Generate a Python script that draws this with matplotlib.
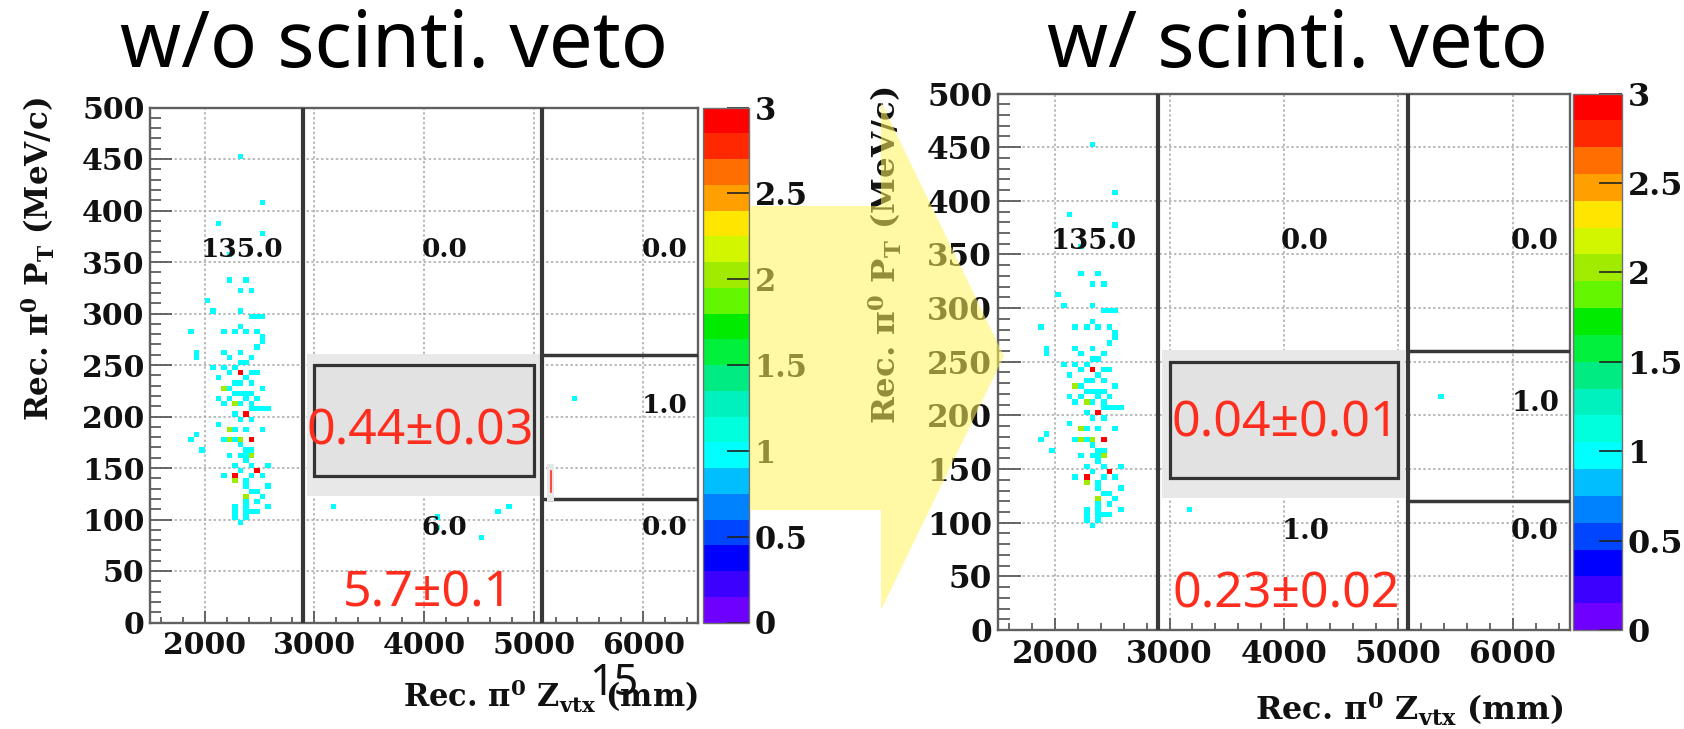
import numpy as np
import matplotlib
matplotlib.use("Agg")
import matplotlib.pyplot as plt
from matplotlib.colors import ListedColormap, BoundaryNorm
from matplotlib.patches import Rectangle, Polygon
from matplotlib.ticker import MultipleLocator, FuncFormatter

# ---------------------------------------------------------------- data
# upstream events (Z < 2900 mm): identical for both selections
z_up = [2325, 2525, 2125, 2525, 2225, 2225, 2375, 2325, 2425, 2025,
        2075, 2325, 2425, 2475, 2525, 1875, 2175, 2275, 2325, 2375,
        2475, 2525, 2525, 1925, 1925, 2175, 2225, 2325, 2425, 2475,
        2075, 2175, 2225, 2325, 2425, 2125, 2375, 2425, 2525, 2175,
        2275, 2125, 2225, 2325, 2375, 2425, 2275, 2175, 2325, 2425,
        2425, 2475, 2525, 2575, 2375, 2325, 2125, 2525, 2225, 1875,
        1925, 2175, 2225, 2325, 2275, 2425, 1975, 2225, 2325, 2375,
        2425, 2375, 2425, 2275, 2575, 2475, 2275, 2175, 2275, 2375,
        2425, 2525, 2375, 2575, 2475, 2375, 2275, 2375, 2475, 2525,
        2575, 2275, 2375, 2375, 2425, 2475, 2325,
        2325, 2375, 2275, 2475, 2275, 2325, 2225, 2375, 2475, 2275,
        2425, 2275, 2375, 2325, 2375, 2325, 2425, 2275, 2375, 2425]
pt_up = [452.5, 407.5, 387.5, 377.5, 357.5, 332.5, 332.5, 322.5, 322.5, 312.5,
         302.5, 302.5, 297.5, 297.5, 297.5, 282.5, 282.5, 282.5, 287.5, 282.5,
         282.5, 277.5, 272.5, 262.5, 257.5, 262.5, 257.5, 262.5, 257.5, 267.5,
         247.5, 247.5, 242.5, 242.5, 242.5, 237.5, 237.5, 232.5, 227.5, 227.5,
         222.5, 217.5, 217.5, 222.5, 222.5, 222.5, 212.5, 212.5, 212.5, 212.5,
         207.5, 207.5, 207.5, 207.5, 202.5, 197.5, 192.5, 187.5, 187.5, 177.5,
         182.5, 177.5, 177.5, 177.5, 177.5, 177.5, 167.5, 162.5, 162.5, 162.5,
         162.5, 167.5, 167.5, 152.5, 152.5, 147.5, 142.5, 142.5, 137.5, 137.5,
         142.5, 142.5, 132.5, 132.5, 127.5, 122.5, 112.5, 117.5, 117.5, 122.5,
         112.5, 107.5, 112.5, 102.5, 107.5, 107.5, 97.5,
         252.5, 252.5, 247.5, 242.5, 232.5, 232.5, 227.5, 217.5, 217.5, 202.5,
         197.5, 187.5, 187.5, 172.5, 157.5, 147.5, 152.5, 102.5, 107.5, 127.5]
n_up = [1, 1, 1, 1, 1, 1, 1, 1, 1, 1,
        1, 1, 1, 1, 1, 1, 1, 1, 1, 1,
        1, 1, 1, 1, 1, 1, 1, 1, 1, 1,
        1, 1, 1, 3, 1, 1, 1, 1, 1, 2,
        1, 1, 1, 1, 1, 1, 2, 1, 1, 1,
        1, 1, 1, 1, 3, 1, 1, 1, 2, 1,
        1, 1, 2, 2, 1, 3, 1, 1, 1, 1,
        2, 1, 1, 1, 1, 3, 3, 1, 2, 1,
        1, 1, 1, 1, 1, 2, 1, 1, 1, 1,
        1, 1, 1, 1, 1, 1, 1,
        1, 1, 1, 1, 1, 1, 1, 1, 1, 1,
        1, 1, 1, 1, 1, 1, 1, 1, 1, 1]

# downstream events without / with the scintillator veto
z_wo = [3175, 4125, 4125, 4525, 4675, 4775, 5375]
pt_wo = [112.5, 102.5, 92.5, 82.5, 107.5, 112.5, 217.5]
n_wo = [1, 1, 1, 1, 1, 1, 1]
z_w = [3175, 5375]
pt_w = [112.5, 217.5]
n_w = [1, 1]

panel_titles = ["w/o scinti. veto", "w/ scinti. veto"]
signal_expect = ["0.44±0.03", "0.04±0.01"]
lowpt_expect = ["5.7±0.1", "0.23±0.02"]

# selection boundaries (mm, MeV/c)
z_range = (1500, 6500)
pt_range = (0, 500)
z_cuts = (2900, 5080)
pt_cuts = (120, 260)
signal_box = (3000, 5000, 142, 250)
blind_fill = (2930, 5055, 123, 261)

z_edges = np.linspace(z_range[0], z_range[1], 101)
pt_edges = np.linspace(pt_range[0], pt_range[1], 101)

palette = ["#6e00ff", "#3c00ff", "#0000ff", "#0046ff", "#0082ff",
           "#00beff", "#00ffff", "#00ffdc", "#00f0be", "#00eb82",
           "#00f03c", "#00eb00", "#64f500", "#a0eb00", "#d2f500",
           "#ffe600", "#ffa000", "#ff6e00", "#ff2800", "#ff0000"]

# ---------------------------------------------------------------- style
W, H, DPI = 1684, 729, 100
plt.rcParams.update({
    "font.family": ["DejaVu Serif"],
    "font.weight": "bold",
    "mathtext.fontset": "custom",
    "mathtext.rm": "DejaVu Serif:bold",
    "mathtext.it": "DejaVu Serif:italic:bold",
    "mathtext.bf": "DejaVu Serif:bold",
})
SANS = ["Noto Sans", "DejaVu Sans"]
RED = "#ff2d1e"

cmap = ListedColormap(palette)
cmap.set_over(palette[-1])
norm = BoundaryNorm(np.linspace(0, 3, 21), cmap.N)

fig = plt.figure(figsize=(W / DPI, H / DPI), dpi=DPI)
fig.patch.set_facecolor("white")


def fbox(x0, y0, x1, y1):
    """Pixel box (top-left origin) -> figure fraction rect."""
    return [x0 / W, 1 - y1 / H, (x1 - x0) / W, (y1 - y0) / H]


def fpt(x, y):
    return x / W, 1 - y / H


regions = [
    (z_range[0], z_cuts[0], pt_range[0], pt_range[1]),
    (z_cuts[0], z_cuts[1], pt_cuts[1], pt_range[1]),
    (z_cuts[1], z_range[1], pt_cuts[1], pt_range[1]),
    (z_cuts[1], z_range[1], pt_cuts[0], pt_cuts[1]),
    (z_cuts[0], z_cuts[1], pt_range[0], pt_cuts[0]),
    (z_cuts[1], z_range[1], pt_range[0], pt_cuts[0]),
]
label_xy = [(2340, 362), (4185, 362), (6195, 362),
            (6200, 211), (4185, 92), (6195, 92)]


def draw_panel(ax_px, cb_px, z, pt, n, s, sig_txt, low_txt,
               sig_xy, low_xy, ylab_px, xlab_px):
    ax = fig.add_axes(fbox(*ax_px))
    cax = fig.add_axes(fbox(*cb_px))

    h, _, _ = np.histogram2d(z, pt, bins=[z_edges, pt_edges], weights=n)
    mesh = ax.pcolormesh(z_edges, pt_edges, np.ma.masked_equal(h.T, 0),
                         cmap=cmap, norm=norm, zorder=1.6)
    ax.set_xlim(*z_range)
    ax.set_ylim(*pt_range)

    ax.xaxis.set_major_locator(MultipleLocator(1000))
    ax.xaxis.set_minor_locator(MultipleLocator(200))
    ax.yaxis.set_major_locator(MultipleLocator(50))
    ax.yaxis.set_minor_locator(MultipleLocator(10))
    ax.grid(True, which="major", color="#a8a8a8", ls=(0, (1.6, 1.6)), lw=1.1)
    ax.tick_params(axis="both", which="both", direction="in", color="#505050",
                   width=1.2, labelsize=21.5 * s, labelcolor="#111111")
    ax.tick_params(axis="x", which="major", length=8.5 * s, pad=6 * s)
    ax.tick_params(axis="x", which="minor", length=4.5 * s)
    ax.tick_params(axis="y", which="major", length=16 * s, pad=4 * s)
    ax.tick_params(axis="y", which="minor", length=8 * s)
    for sp in ax.spines.values():
        sp.set_color("#606060")
        sp.set_linewidth(1.7)

    # blinded region and signal box
    bz0, bz1, bp0, bp1 = blind_fill
    ax.add_patch(Rectangle((bz0, bp0), bz1 - bz0, bp1 - bp0,
                           fc="#e8e8e8", ec="none", zorder=2))
    sz0, sz1, sp0, sp1 = signal_box
    ax.add_patch(Rectangle((sz0, sp0), sz1 - sz0, sp1 - sp0,
                           fc="#e2e2e2", ec="#333333", lw=2.3, zorder=2.2))

    # region boundaries
    for zc in z_cuts:
        ax.axvline(zc, color="#383838", lw=3.0, zorder=3)
    for pc in pt_cuts:
        ax.plot([z_cuts[1], z_range[1]], [pc, pc], color="#383838", lw=2.5,
                zorder=3, solid_capstyle="butt")

    # event count in each region
    za, pa, na = np.asarray(z), np.asarray(pt), np.asarray(n)
    for (z0, z1, p0, p1), (lx, ly) in zip(regions, label_xy):
        sel = (za >= z0) & (za < z1) & (pa >= p0) & (pa < p1)
        ax.text(lx, ly, f"{na[sel].sum():.1f}", ha="center", va="center",
                fontsize=19 * s, color="#111111", zorder=4)

    ax.text(*sig_xy, sig_txt, ha="center", va="center", color=RED,
            fontsize=36, family=SANS, fontweight="normal", zorder=5)
    ax.text(*low_xy, low_txt, ha="center", va="center", color=RED,
            fontsize=36, family=SANS, fontweight="normal", zorder=5)

    # colour scale
    cb = fig.colorbar(mesh, cax=cax, ticks=np.arange(0, 3.01, 0.5))
    cb.outline.set_edgecolor("#707070")
    cb.outline.set_linewidth(1.0)
    cax.tick_params(which="major", direction="in", length=16 * s, width=1.2,
                    color="#222222", labelsize=22 * s, pad=4,
                    labelcolor="#111111")
    cax.tick_params(which="minor", length=0)
    cax.yaxis.set_major_formatter(FuncFormatter(lambda v, p: f"{v:g}"))

    fig.text(*fpt(*ylab_px), "Rec. π$^{0}$ P$_{\\mathrm{T}}$ (MeV/c)",
             rotation=90, ha="center", va="top", fontsize=22.3 * s,
             color="#111111")
    fig.text(*fpt(*xlab_px), "Rec. π$^{0}$ Z$_{\\mathrm{vtx}}$ (mm)",
             ha="right", va="center", fontsize=22 * s, color="#111111")
    return ax


ax_l = draw_panel((150, 107.5, 698, 622.5), (703, 107.5, 749, 622.5),
                  z_up + z_wo, pt_up + pt_wo, n_up + n_wo, 1.0,
                  signal_expect[0], lowpt_expect[0], (3966, 185), (4039, 28),
                  (38, 97), (698, 696))
ax_r = draw_panel((998, 93.5, 1570, 630), (1573, 93.5, 1622, 630),
                  z_up + z_w, pt_up + pt_w, n_up + n_w, 1.045,
                  signal_expect[1], lowpt_expect[1], (4009, 192), (4017, 33),
                  (885, 86), (1563, 709))

# stray text cursor left on the first plot
ax_l.add_patch(Rectangle((5125, 118), 65, 36, fc="#e8e8e8", ec="none",
                         zorder=4))
ax_l.plot([5157, 5157], [127, 147], color=RED, lw=1.2, zorder=5)

# titles
fig.text(*fpt(394, 46), panel_titles[0], ha="center", va="center",
         fontsize=56, family=SANS, fontweight="normal", color="black")
fig.text(*fpt(1297, 46), panel_titles[1], ha="center", va="center",
         fontsize=56, family=SANS, fontweight="normal", color="black")

# arrow from the first selection to the second
arrow_px = [(750, 206), (881, 206), (881, 102), (1004, 356),
            (881, 610), (881, 510), (750, 510)]
fig.patches.append(Polygon([fpt(x, y) for x, y in arrow_px], closed=True,
                           transform=fig.transFigure, fc="#fff35c",
                           ec="none", alpha=0.55, zorder=10))

# page number
fig.text(*fpt(614, 684), "15", ha="center", va="center", fontsize=31,
         family=SANS, fontweight="normal", color="#111111", zorder=12)

fig.savefig("out.png", dpi=DPI, facecolor="white")
